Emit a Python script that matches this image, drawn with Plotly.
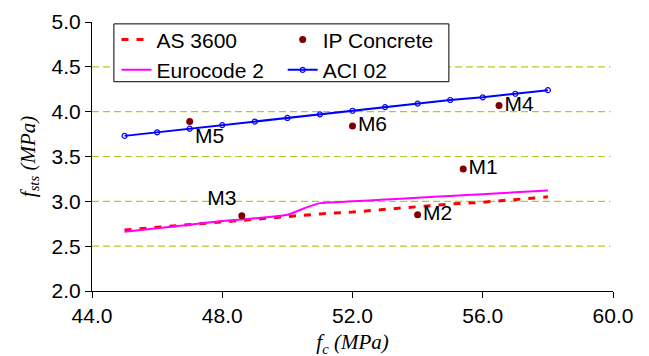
import plotly.graph_objects as go

fc = [45, 46, 47, 48, 49, 50, 51, 52, 53, 54, 55, 56, 57, 58]
as3600 = [2.68, 2.71, 2.74, 2.77, 2.80, 2.83, 2.86, 2.88, 2.91, 2.94, 2.97, 2.99, 3.02, 3.05]
aci02 = [3.73, 3.77, 3.81, 3.85, 3.89, 3.93, 3.97, 4.01, 4.05, 4.09, 4.13, 4.16, 4.20, 4.24]
ec2_fc = [45, 46, 47, 48, 49, 50, 50.5, 51, 52, 53, 54, 55, 56, 57, 58]
ec2 = [2.66, 2.70, 2.74, 2.78, 2.81, 2.85, 2.92, 2.98, 3.00, 3.02, 3.04, 3.06, 3.08, 3.10, 3.12]

ip_names = ["M1", "M2", "M3", "M4", "M5", "M6"]
ip_fc = [55.4, 54.0, 48.6, 56.5, 47.0, 52.0]
ip_fsts = [3.36, 2.85, 2.84, 4.07, 3.89, 3.84]
ip_textpos = ["middle right", "middle right", "top left", "middle right", "bottom right", "middle right"]

grid_vals = [2.5, 3.0, 3.5, 4.0, 4.5]
x_ticks = [44, 48, 52, 56, 60]
y_ticks = [2.0, 2.5, 3.0, 3.5, 4.0, 4.5, 5.0]

FONT = "Liberation Sans, Arial, sans-serif"
SERIF = "Liberation Serif, Times New Roman, serif"

fig = go.Figure()
fig.add_trace(go.Scatter(x=fc, y=as3600, mode="lines", name="AS 3600",
                         line=dict(color="#FF0000", width=3, dash="7px,8px"), legend="legend"))
fig.add_trace(go.Scatter(x=ec2_fc, y=ec2, mode="lines", name="Eurocode 2",
                         line=dict(color="#FF00FF", width=2, shape="spline", smoothing=0.5), legend="legend"))
fig.add_trace(go.Scatter(x=ip_fc, y=ip_fsts, mode="markers+text", name="IP Concrete",
                         text=ip_names, textposition=ip_textpos,
                         textfont=dict(family=FONT, size=21, color="black"),
                         marker=dict(color="#800000", size=7), legend="legend2"))
fig.add_trace(go.Scatter(x=fc, y=aci02, mode="lines+markers", name="ACI 02",
                         line=dict(color="#0000FF", width=2),
                         marker=dict(symbol="circle-open", size=5, color="#0000FF", line=dict(width=1.2)),
                         legend="legend2"))

for g in grid_vals:
    fig.add_shape(type="line", xref="paper", yref="y", x0=0, x1=0.995, y0=g, y1=g,
                  line=dict(color="#A6D12B", width=1.2, dash="7px,4px"), layer="below")

# legend frame
fig.add_shape(type="rect", xref="paper", yref="paper", x0=0.042, x1=0.685, y0=0.778, y1=0.993,
              line=dict(color="black", width=1), fillcolor="white", layer="above")

fig.update_layout(
    width=649, height=356,
    margin=dict(l=84, r=44, t=13, b=73),
    paper_bgcolor="white", plot_bgcolor="white",
    font=dict(family=FONT, size=21, color="black"),
    legend=dict(x=0.047, y=1.006, xanchor="left", yanchor="top", bgcolor="rgba(0,0,0,0)",
                borderwidth=0, itemwidth=30, font=dict(size=21), tracegroupgap=0),
    legend2=dict(x=0.366, y=1.006, xanchor="left", yanchor="top", bgcolor="rgba(0,0,0,0)",
                 borderwidth=0, itemwidth=30, font=dict(size=21), tracegroupgap=0),
    xaxis=dict(range=[44, 60], tickvals=x_ticks, tickformat=".1f", showgrid=False, zeroline=False,
               showline=True, linecolor="black", linewidth=1, ticks="outside", ticklen=6,
               tickcolor="black", automargin=False,
               title=dict(text="<i>f<sub>c</sub> (MPa)</i>", font=dict(family=SERIF, size=21), standoff=8)),
    yaxis=dict(range=[2.0, 5.0], tickvals=y_ticks, tickformat=".1f", showgrid=False, zeroline=False,
               showline=True, linecolor="black", linewidth=1, ticks="outside", ticklen=6,
               tickcolor="black", automargin=False,
               title=dict(text="<i>f<sub>sts</sub> (MPa)</i>", font=dict(family=SERIF, size=21), standoff=10)),
)

fig.write_html("out.html")
